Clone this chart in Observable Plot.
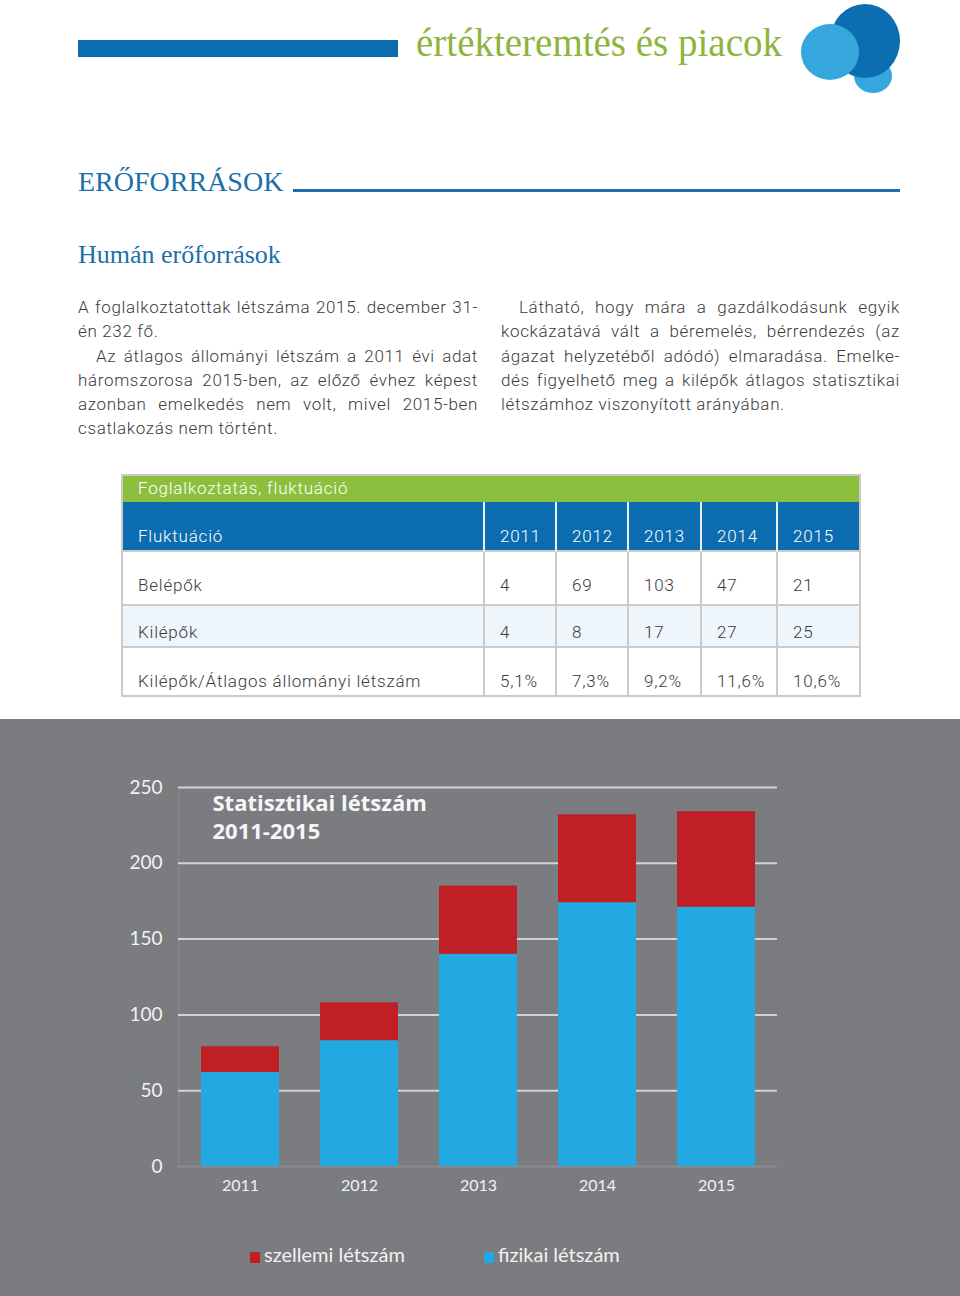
<!DOCTYPE html>
<html lang="hu">
<head>
<meta charset="utf-8">
<script src="https://cdn.jsdelivr.net/npm/d3@7"></script>
<script src="https://cdn.jsdelivr.net/npm/@observablehq/plot@0.6"></script>
<style>
  html, body { margin: 0; padding: 0; background: #fff; }
  #page { position: relative; width: 960px; height: 1296px; overflow: hidden; background: #fff; }
  .abs { position: absolute; }
  .serif { font-family: "Liberation Serif", "DejaVu Serif", serif; }
  .body { font-family: Roboto, "Open Sans", sans-serif; font-weight: 300; font-size: 17px; color: #3a3a3a; letter-spacing: 0.65px; line-height: 24.3px; }
  .body .j { text-align: justify; text-align-last: justify; white-space: nowrap; }
  .body .l { text-align: left; white-space: nowrap; }
  .body .ind { padding-left: 18px; }
  table.fl { position: absolute; left: 121px; top: 474px; border-collapse: collapse; table-layout: fixed; width: 738px;
    font-family: Roboto, "Open Sans", sans-serif; font-weight: 300; font-size: 17px; letter-spacing: 0.8px; color: #3a3a3a; }
  table.fl td { padding: 0 0 4px 15px; vertical-align: bottom; border: 2px solid #cbcbcb; white-space: nowrap; }
  table.fl tr.green td { background: #8dbf3f; color: #fff; height: 24px; padding: 0 0 2px 15px; vertical-align: middle; border-bottom: none; }
  table.fl tr.head td { background: #0b6cb0; color: #fff; height: 44px; border-left: 2px solid #e8eef5; border-right: 2px solid #e8eef5; border-top: none; border-bottom: none; }
  table.fl tr.head td:first-child { border-left: 2px solid #cbcbcb; }
  table.fl tr.head td:last-child { border-right: 2px solid #cbcbcb; }
  table.fl tr.r1 td { height: 43px; padding-bottom: 9px; background: #fff; }
  table.fl tr.r2 td { height: 36px; background: #eef5fb; }
  table.fl tr.r3 td { height: 43px; background: #fff; }
  #panel { position: absolute; left: 0; top: 719px; width: 960px; height: 577px; background: #7b7c80; }
  #legend { position: absolute; left: 0; top: 523px; width: 960px; height: 26px; font-family: Lato, "Open Sans", sans-serif; font-size: 20px; color: #f2f2f2; }
  #legend .item { position: absolute; top: 0; white-space: nowrap; }
  #legend .sw { display: inline-block; width: 10px; height: 11px; margin-right: 4px; vertical-align: -1px; }
</style>
</head>
<body>
<div id="page">
  <!-- header -->
  <div class="abs" style="left:78px; top:40px; width:320px; height:17px; background:#0b6db0;"></div>
  <div class="abs serif" style="left:416px; top:20px; font-size:39px; line-height:46px; color:#8cb43e; white-space:nowrap;">értékteremtés és piacok</div>
  <svg class="abs" style="left:780px; top:0px;" width="180" height="110">
    <ellipse cx="93" cy="76" rx="19" ry="17" fill="#35a7dc"/>
    <ellipse cx="85" cy="41" rx="35" ry="37" fill="#0a6eb1"/>
    <ellipse cx="50" cy="52" rx="29" ry="28" fill="#35a7dc"/>
  </svg>

  <div class="abs serif" style="left:78px; top:164px; font-size:28px; line-height:36px; color:#1c6fa9; white-space:nowrap;">ERŐFORRÁSOK</div>
  <div class="abs" style="left:293px; top:189px; width:607px; height:3px; background:#1c6fa9;"></div>

  <div class="abs serif" style="left:78px; top:239px; font-size:26px; line-height:32px; color:#1c6fa9; white-space:nowrap;">Humán erőforrások</div>

  <div class="abs body" id="colL" style="left:78px; top:295px; width:400px;"></div>
  <div class="abs body" id="colR" style="left:501px; top:295px; width:399px;"></div>

  <table class="fl" id="tbl"></table>

  <div id="panel">
    <div id="chart"></div>
    <div id="legend"></div>
  </div>
</div>

<script>
// ---- data ----
const years = ["2011", "2012", "2013", "2014", "2015"];
const fizikai = [62, 83, 140, 174, 171];     // fizikai létszám (blue)
const szellemi = [17, 25, 45, 58, 63];       // szellemi létszám (red)
const yTicks = [0, 50, 100, 150, 200, 250];
const seriesNames = ["szellemi létszám", "fizikai létszám"];
const seriesColors = ["#c11f26", "#22a9e2"];
const chartTitle = "Statisztikai létszám\n2011-2015";

const tableTitle = "Foglalkoztatás, fluktuáció";
const rowLabels = ["Fluktuáció", "Belépők", "Kilépők", "Kilépők/Átlagos állományi létszám"];
const belepok = [4, 69, 103, 47, 21];
const kilepok = [4, 8, 17, 27, 25];
const arany = ["5,1%", "7,3%", "9,2%", "11,6%", "10,6%"];

const leftLines = [
  ["j", "", "A foglalkoztatottak létszáma 2015. december 31-"],
  ["l", "", "én 232 fő."],
  ["j", "ind", "Az átlagos állományi létszám a 2011 évi adat"],
  ["j", "", "háromszorosa 2015-ben, az előző évhez képest"],
  ["j", "", "azonban emelkedés nem volt, mivel 2015-ben"],
  ["l", "", "csatlakozás nem történt."]
];
const rightLines = [
  ["j", "ind", "Látható, hogy mára a gazdálkodásunk egyik"],
  ["j", "", "kockázatává vált a béremelés, bérrendezés (az"],
  ["j", "", "ágazat helyzetéből adódó) elmaradása. Emelke-"],
  ["j", "", "dés figyelhető meg a kilépők átlagos statisztikai"],
  ["l", "", "létszámhoz viszonyított arányában."]
];

// ---- text columns ----
function fillCol(id, lines) {
  const el = document.getElementById(id);
  for (const [al, ind, t] of lines) {
    const d = document.createElement("div");
    d.className = al + (ind ? " " + ind : "");
    d.textContent = t;
    el.appendChild(d);
  }
}
fillCol("colL", leftLines);
fillCol("colR", rightLines);

// ---- table ----
const tbl = document.getElementById("tbl");
const colW = [362, 72, 72, 73, 76, 83];
const cg = document.createElement("colgroup");
colW.forEach(w => { const c = document.createElement("col"); c.style.width = w + "px"; cg.appendChild(c); });
tbl.appendChild(cg);
function addRow(cls, cells, span) {
  const tr = document.createElement("tr");
  tr.className = cls;
  cells.forEach(c => {
    const td = document.createElement("td");
    td.textContent = c;
    if (span) td.colSpan = span;
    tr.appendChild(td);
  });
  tbl.appendChild(tr);
}
addRow("green", [tableTitle], 6);
addRow("head", [rowLabels[0], ...years]);
addRow("r1", [rowLabels[1], ...belepok.map(String)]);
addRow("r2", [rowLabels[2], ...kilepok.map(String)]);
addRow("r3", [rowLabels[3], ...arany]);

// ---- chart ----
const data = years.flatMap((yr, i) => [
  {year: yr, kind: seriesNames[1], v: fizikai[i]},
  {year: yr, kind: seriesNames[0], v: szellemi[i]}
]);

const chart = Plot.plot({
  width: 960,
  height: 490,
  marginTop: 68,
  marginBottom: 43,
  marginLeft: 178,
  marginRight: 183,
  style: {background: "transparent", color: "#f2f2f2", fontFamily: "Lato, 'Open Sans', sans-serif", overflow: "visible"},
  x: {domain: years, paddingInner: 0.345, paddingOuter: 0.1725, label: null},
  y: {domain: [0, 250], label: null},
  color: {domain: seriesNames, range: seriesColors},
  marks: [
    Plot.frame({anchor: "left", stroke: "#86878b", strokeWidth: 1}),
    Plot.ruleY(yTicks.filter(t => t > 0), {stroke: "#d3d3d5", strokeWidth: 2}),
    Plot.ruleY([0], {stroke: "#8b8c90", strokeWidth: 2}),
    Plot.barY(data, {x: "year", y: "v", fill: "kind"}),
    Plot.axisY({ticks: yTicks, tickSize: 0, tickPadding: 16, fontSize: 19, label: null}),
    Plot.axisX({tickSize: 0, tickPadding: 13, fontSize: 16, label: null}),
    Plot.text([chartTitle], {
      text: d => d, frameAnchor: "top-left", dx: 34, dy: 4, lineAnchor: "top", textAnchor: "start",
      fontSize: 22, fontWeight: "bold", fontFamily: "'Open Sans', Lato, sans-serif", fill: "#f6f6f6", lineHeight: 1.25
    })
  ]
});
document.getElementById("chart").appendChild(chart);

// ---- legend ----
const legend = document.getElementById("legend");
const legendX = [250, 484];
seriesNames.forEach((name, i) => {
  const it = document.createElement("div");
  it.className = "item";
  it.style.left = legendX[i] + "px";
  const sw = document.createElement("span");
  sw.className = "sw";
  sw.style.background = seriesColors[i];
  it.appendChild(sw);
  it.appendChild(document.createTextNode(name));
  legend.appendChild(it);
});
</script>
</body>
</html>
